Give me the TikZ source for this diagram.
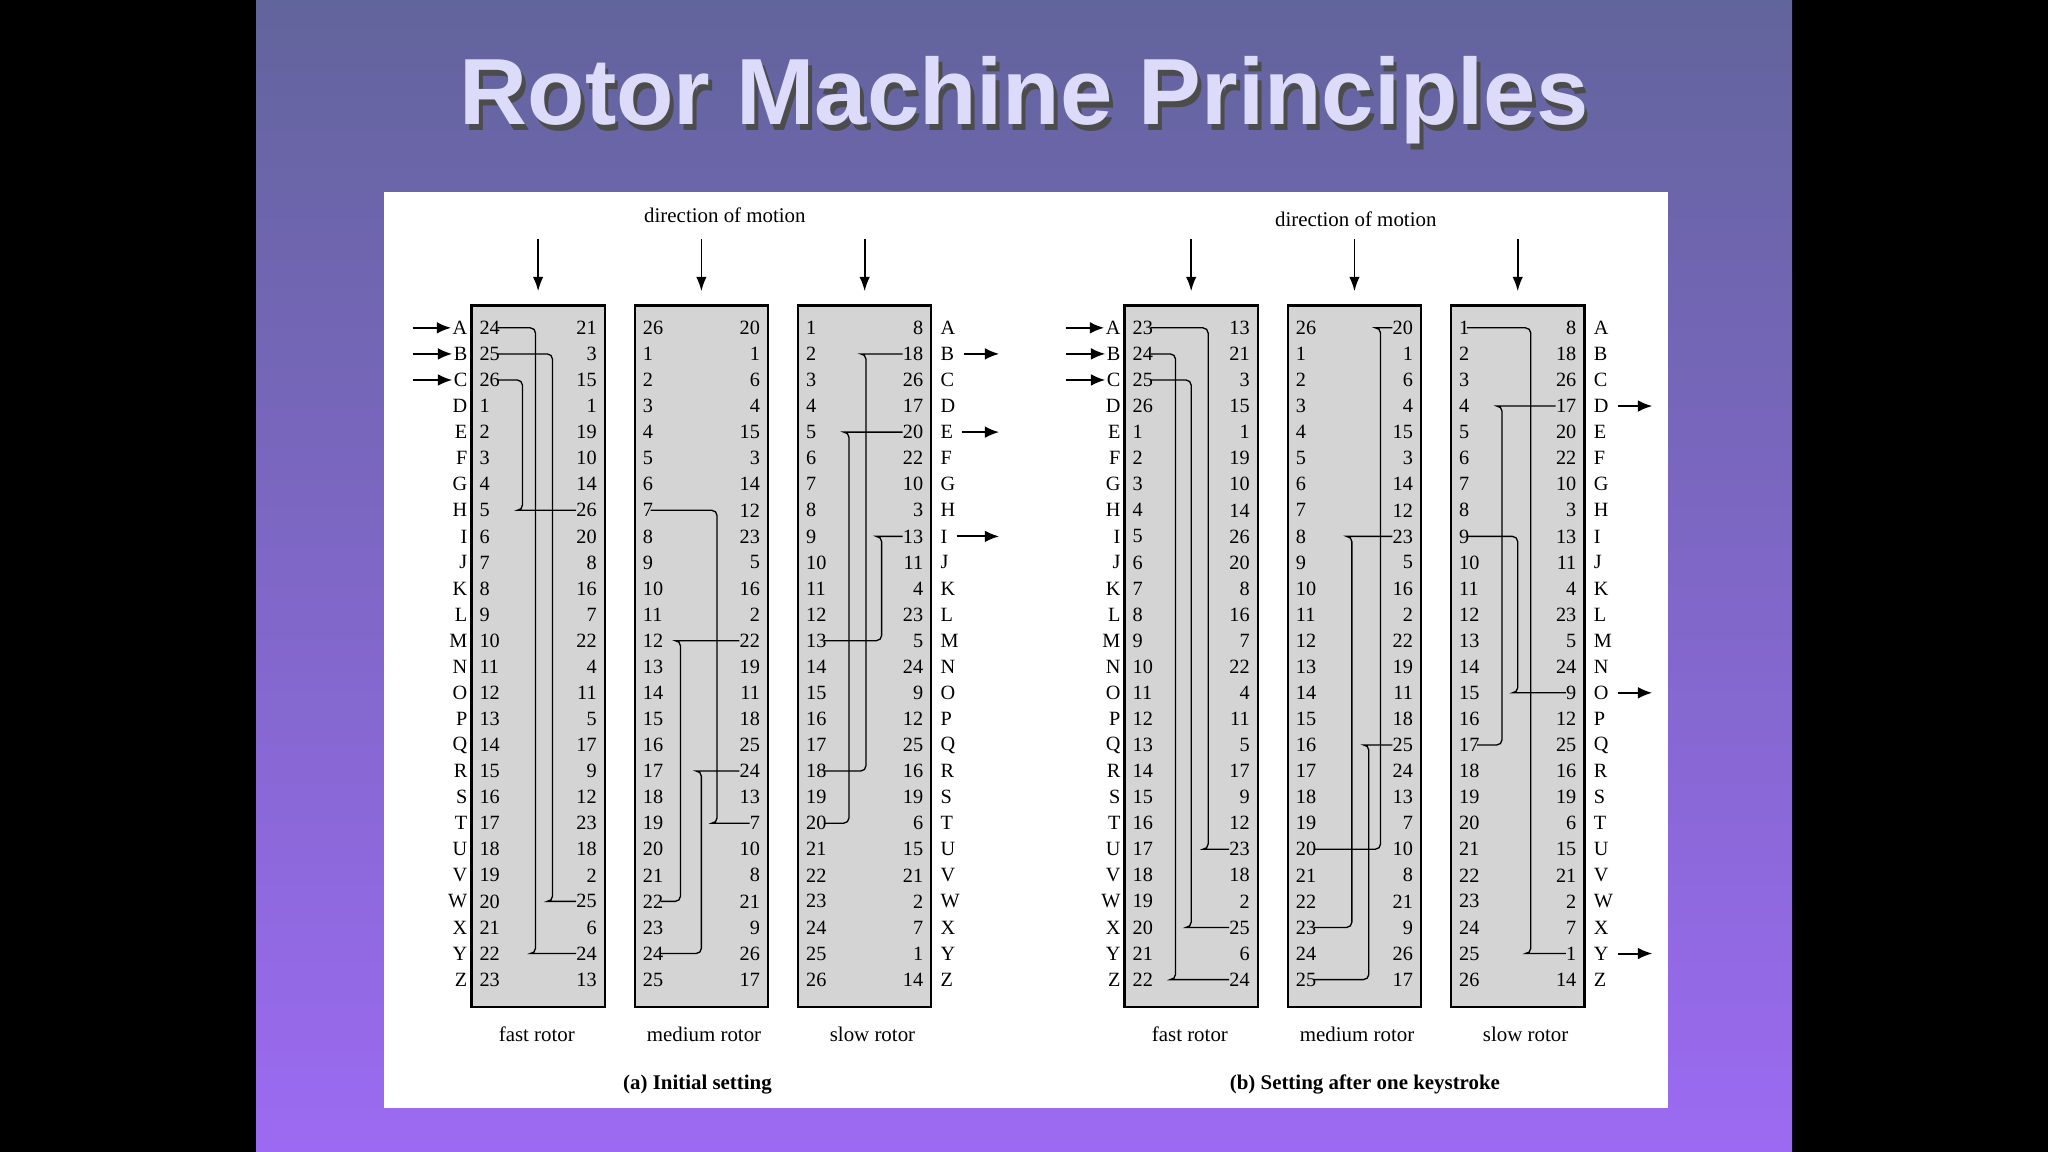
\documentclass[tikz,border=0pt]{standalone}
\usepackage{fontspec}
\setmainfont{Liberation Serif}
\newfontfamily\titlefont{Liberation Sans}
\definecolor{slidetop}{HTML}{62649C}
\definecolor{slidemid}{HTML}{7A66C8}
\definecolor{slidebot}{HTML}{9C6AF2}
\definecolor{titlecol}{HTML}{DCDCFA}
\definecolor{rotorgray}{HTML}{D4D4D4}
\tikzset{
  rotorbox/.style={draw=black,line width=1.8pt,fill=rotorgray},
  numL/.style={anchor=west,inner sep=0pt,font=\fontsize{15.5}{15.5}\selectfont},
  numR/.style={anchor=east,inner sep=0pt,font=\fontsize{15.5}{15.5}\selectfont},
  letL/.style={anchor=east,inner sep=1pt,font=\fontsize{15.5}{15.5}\selectfont},
  letR/.style={anchor=west,inner sep=1pt,font=\fontsize{15.5}{15.5}\selectfont},
  wire/.style={line width=1pt,rounded corners=4pt},
  inarrow/.style={-{Latex[length=11pt,width=9pt]},line width=1.5pt},
  dirarrow/.style={-{Latex[length=11pt,width=8pt]},line width=1.3pt},
  lab/.style={font=\fontsize{16}{16}\selectfont},
  captext/.style={font=\fontsize{16}{16}\selectfont\bfseries}
}
\newcommand\myrotor[4]{%
  \draw[rotorbox] (#2,234) rectangle ++(102,537);
  \foreach \v [count=\i] in {#3} {\node[numL] (#1L\i) at ({#2+6},{251+19.96*(\i-1)}) {\v};}
  \foreach \v [count=\i] in {#4} {\node[numR] (#1R\i) at ({#2+96},{251+19.96*(\i-1)}) {\v};}
}
\newcommand\mywire[4]{%
  \coordinate (#4) at (#3,0);
  \draw[wire] (#1.east) -- ++(2,0) -- (#1.east -| #4) -- (#2.west -| #4) -- ++(-2,0) -- (#2.west);
}
\newcommand\letters[3]{%
  \foreach \l [count=\i] in {A,B,C,D,E,F,G,H,I,J,K,L,M,N,O,P,Q,R,S,T,U,V,W,X,Y,Z} {
    \node[letL] (#1l\i) at ({#2},{251+19.96*(\i-1)}) {\l};
    \node[letR] (#1r\i) at ({#3},{251+19.96*(\i-1)}) {\l};
  }
}
\usetikzlibrary{arrows.meta}
\begin{document}
\begin{tikzpicture}[x=1pt,y=-1pt]
\fill[black] (0,0) rectangle (1568,882);
\shade[top color=slidetop,middle color=slidemid,bottom color=slidebot] (196,0) rectangle (1372,882);
\node[text=black!70,font=\titlefont\bfseries\fontsize{72}{72}\selectfont] (tsh) at (787,81) {Rotor Machine Principles};
\node[text=titlecol,font=\titlefont\bfseries\fontsize{72}{72}\selectfont] (title) at (784,77) {Rotor Machine Principles};
\fill[white] (294,147) rectangle (1277,848);
% ---- (a)
\letters{a}{359}{719}
\myrotor{fa}{361}{24,25,26,1,2,3,4,5,6,7,8,9,10,11,12,13,14,15,16,17,18,19,20,21,22,23}{21,3,15,1,19,10,14,26,20,8,16,7,22,4,11,5,17,9,12,23,18,2,25,6,24,13}
\myrotor{ma}{486}{26,1,2,3,4,5,6,7,8,9,10,11,12,13,14,15,16,17,18,19,20,21,22,23,24,25}{20,1,6,4,15,3,14,12,23,5,16,2,22,19,11,18,25,24,13,7,10,8,21,9,26,17}
\myrotor{sa}{611}{1,2,3,4,5,6,7,8,9,10,11,12,13,14,15,16,17,18,19,20,21,22,23,24,25,26}{8,18,26,17,20,22,10,3,13,11,4,23,5,24,9,12,25,16,19,6,15,21,2,7,1,14}
\mywire{faL1}{faR25}{410}{w1}
\mywire{faL2}{faR23}{423}{w2}
\mywire{faL3}{faR8}{400}{w3}
\mywire{maL8}{maR20}{549}{w4}
\mywire{maL23}{maR13}{521}{w5}
\mywire{maL25}{maR18}{537}{w6}
\mywire{saL13}{saR9}{675}{w7}
\mywire{saL18}{saR2}{663}{w8}
\mywire{saL20}{saR5}{650}{w9}
\foreach \r in {1,2,3} {\coordinate (ain\r) at (316,{251+19.96*(\r-1)}); \draw[inarrow] (ain\r) -- (al\r.west);}
\foreach \r in {2,5,9} {\coordinate (aout\r) at (765,{251+19.96*(\r-1)}); \draw[inarrow] (ar\r.east) ++(6,0) -- (aout\r);}
\node[lab] (dma) at (555,165) {direction of motion};
\foreach \x/\n in {412/1,537/2,662/3} {\coordinate (das\n) at (\x,183); \coordinate (dae\n) at (\x,223); \draw[dirarrow] (das\n) -- (dae\n);}
\node[lab] (fla) at (411,792) {fast rotor};
\node[lab] (mla) at (539,792) {medium rotor};
\node[lab] (sla) at (668,792) {slow rotor};
\node[captext] (capa) at (534,830) {(a) Initial setting};
% ---- (b)
\letters{b}{859}{1219}
\myrotor{fb}{861}{23,24,25,26,1,2,3,4,5,6,7,8,9,10,11,12,13,14,15,16,17,18,19,20,21,22}{13,21,3,15,1,19,10,14,26,20,8,16,7,22,4,11,5,17,9,12,23,18,2,25,6,24}
\myrotor{mb}{986}{26,1,2,3,4,5,6,7,8,9,10,11,12,13,14,15,16,17,18,19,20,21,22,23,24,25}{20,1,6,4,15,3,14,12,23,5,16,2,22,19,11,18,25,24,13,7,10,8,21,9,26,17}
\myrotor{sb}{1111}{1,2,3,4,5,6,7,8,9,10,11,12,13,14,15,16,17,18,19,20,21,22,23,24,25,26}{8,18,26,17,20,22,10,3,13,11,4,23,5,24,9,12,25,16,19,6,15,21,2,7,1,14}
\mywire{fbL1}{fbR21}{925}{x1}
\mywire{fbL2}{fbR26}{900}{x2}
\mywire{fbL3}{fbR24}{912}{x3}
\mywire{mbL21}{mbR1}{1057}{x4}
\mywire{mbL26}{mbR17}{1048}{x5}
\mywire{mbL24}{mbR9}{1035}{x6}
\mywire{sbL1}{sbR25}{1172}{x7}
\mywire{sbL17}{sbR4}{1150}{x8}
\mywire{sbL9}{sbR15}{1162}{x9}
\foreach \r in {1,2,3} {\coordinate (bin\r) at (816,{251+19.96*(\r-1)}); \draw[inarrow] (bin\r) -- (bl\r.west);}
\foreach \r in {4,15,25} {\coordinate (bout\r) at (1265,{251+19.96*(\r-1)}); \draw[inarrow] (br\r.east) ++(6,0) -- (bout\r);}
\node[lab] (dmb) at (1038,168) {direction of motion};
\foreach \x/\n in {912/1,1037/2,1162/3} {\coordinate (dbs\n) at (\x,183); \coordinate (dbe\n) at (\x,223); \draw[dirarrow] (dbs\n) -- (dbe\n);}
\node[lab] (flb) at (911,792) {fast rotor};
\node[lab] (mlb) at (1039,792) {medium rotor};
\node[lab] (slb) at (1168,792) {slow rotor};
\node[captext] (capb) at (1045,830) {(b) Setting after one keystroke};
\end{tikzpicture}
\end{document}
